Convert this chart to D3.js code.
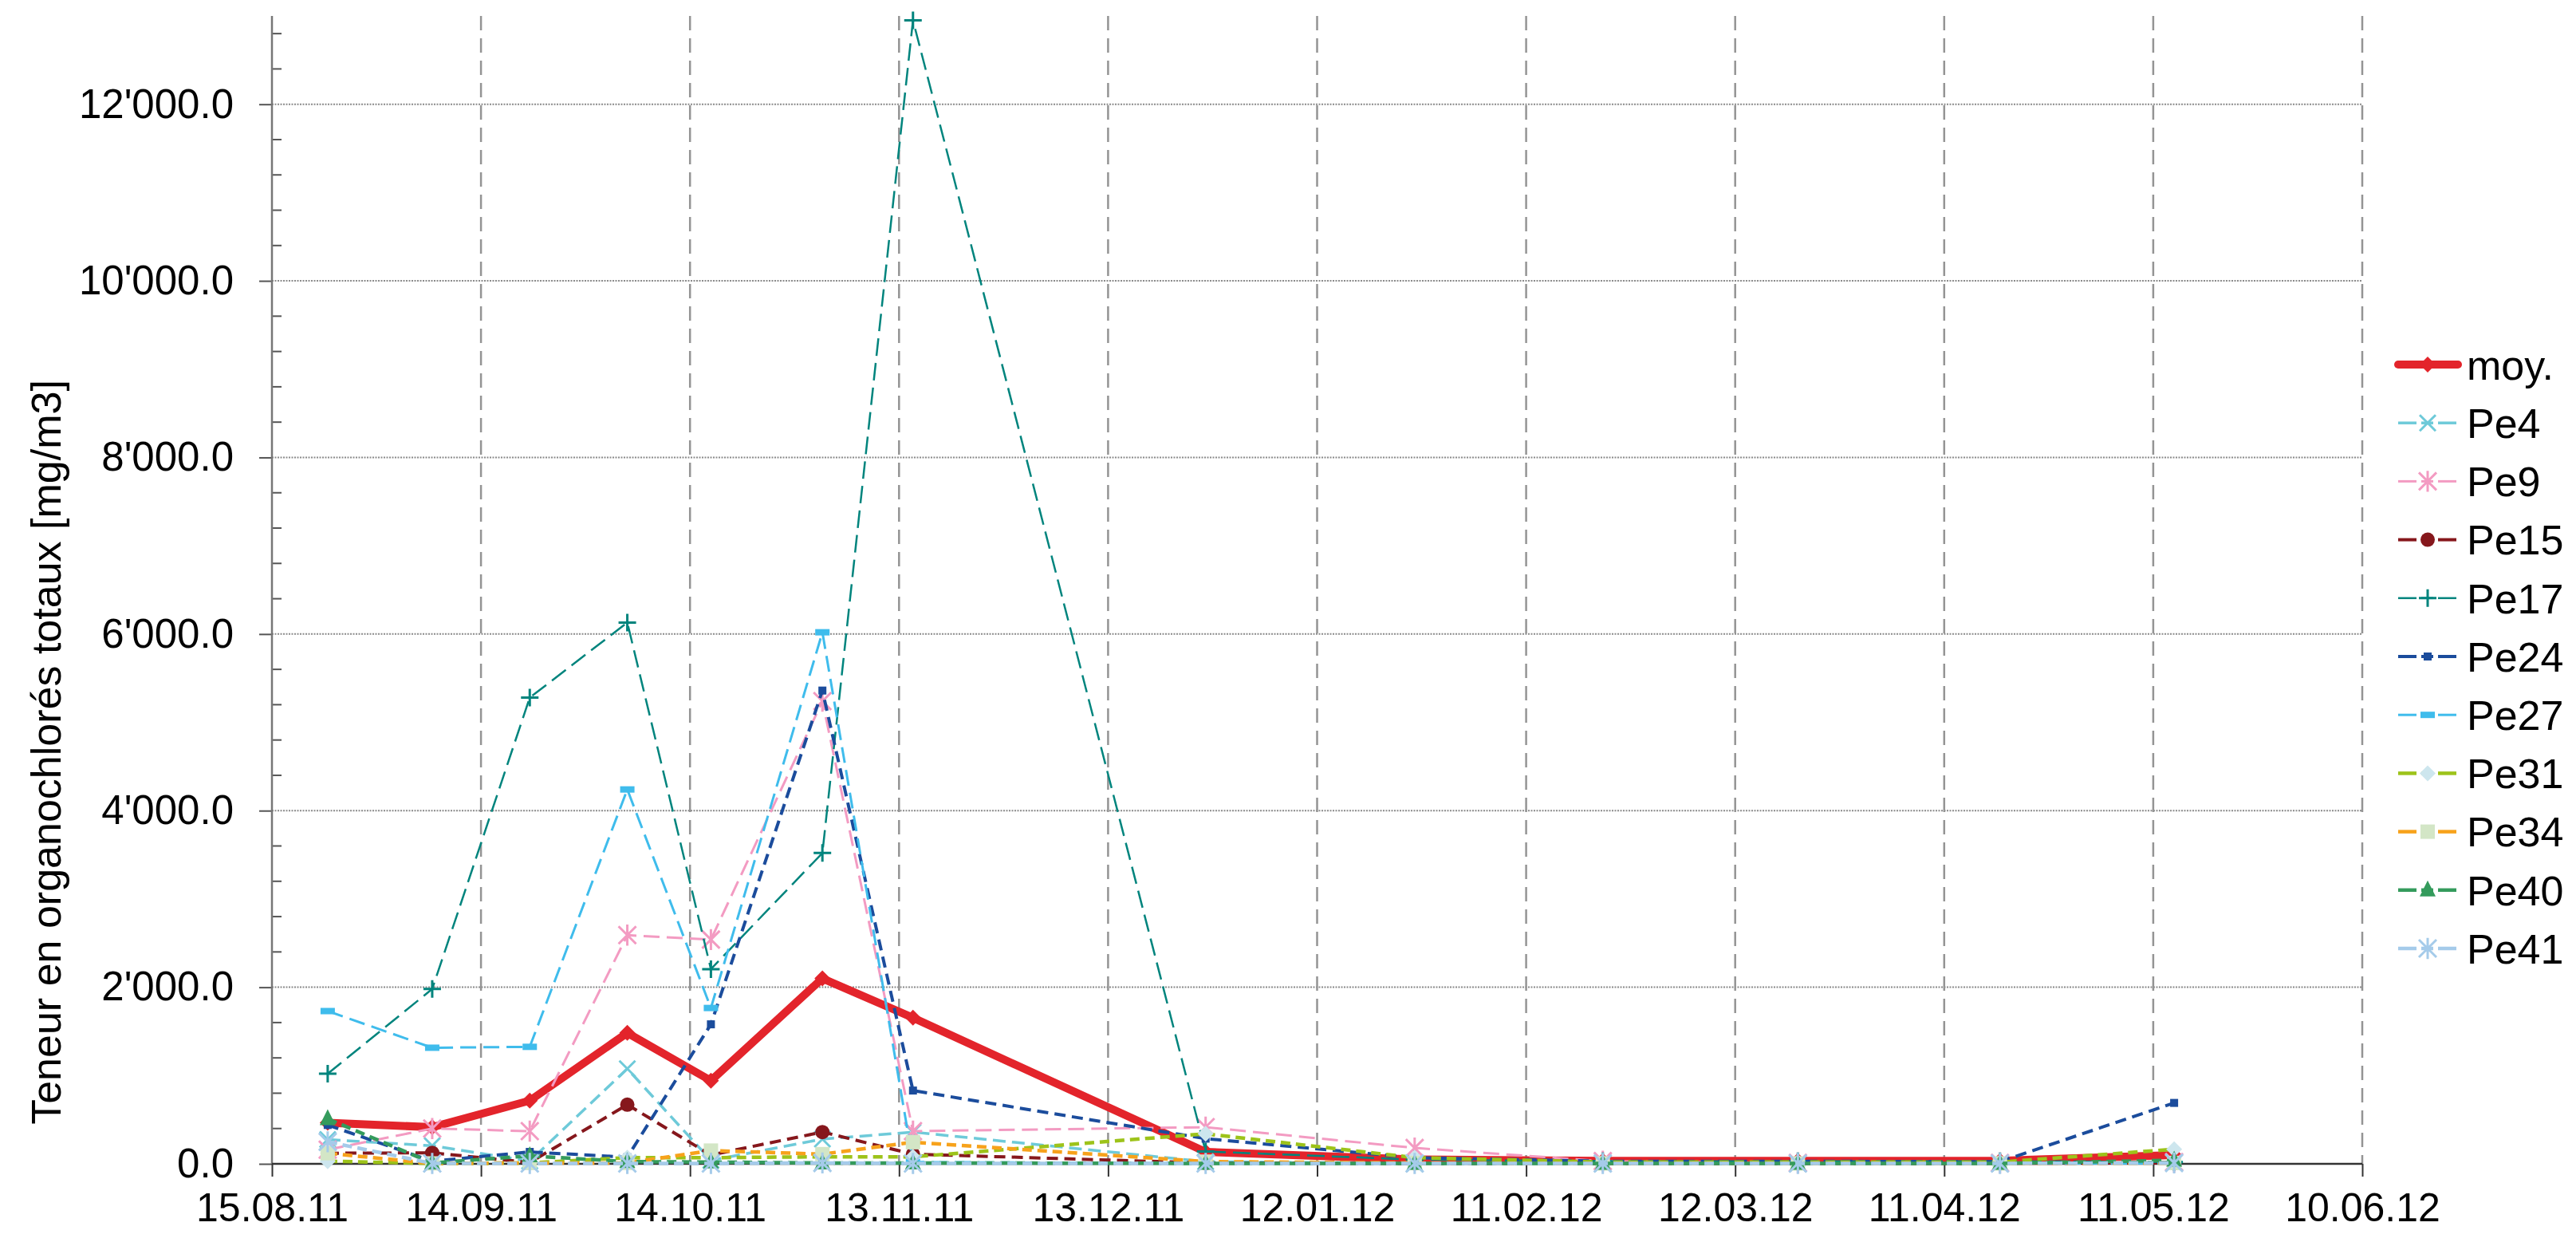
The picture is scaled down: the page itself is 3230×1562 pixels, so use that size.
<!DOCTYPE html>
<html lang="fr">
<head>
<meta charset="utf-8">
<title>Teneur en organochlorés totaux</title>
<script src="https://d3js.org/d3.v7.min.js"></script>
<style>
  body{margin:0;background:#fff;}
  svg text{font-family:"Liberation Sans", Arial, Helvetica, sans-serif;fill:#000;}
</style>
</head>
<body>
<div id="chart"></div>
<script>
// sampling dates (dd.mm.yy)
var dates = ["23.08.11","07.09.11","21.09.11","05.10.11","17.10.11","02.11.11","15.11.11",
             "27.12.11","26.01.12","22.02.12","21.03.12","19.04.12","14.05.12"]

var xTickLabels = ["15.08.11","14.09.11","14.10.11","13.11.11","13.12.11","12.01.12",
                   "11.02.12","12.03.12","11.04.12","11.05.12","10.06.12"]
var yTicks = [0, 2000, 4000, 6000, 8000, 10000, 12000]

var seriesNames = ["moy.","Pe4","Pe9","Pe15","Pe17","Pe24","Pe27","Pe31","Pe34","Pe40","Pe41"]

var moy  = [465, 415, 716, 1483, 942, 2100, 1655, 135, 50, 35, 35, 35, 100]
var pe4  = [275, 205, 30, 1077, 40, 280, 360, 25, 5, 5, 5, 5, 15]
var pe9  = [160, 400, 370, 2590, 2540, 5240, 370, 415, 180, 30, 10, 10, 20]
var pe15 = [120, 125, 15, 670, 100, 360, 110, 10, 5, 5, 5, 5, 10]
var pe17 = [1020, 1980, 5280, 6130, 2205, 3520, 12950, 140, 48, 30, 30, 30, 20]
var pe24 = [440, 30, 135, 75, 1580, 5360, 830, 285, 70, 30, 30, 25, 690]
var pe27 = [1730, 1315, 1325, 4240, 1765, 6020, 20, 5, 5, 5, 5, 5, 5]
var pe31 = [30, 5, 10, 70, 70, 80, 80, 340, 70, 20, 20, 20, 165]
var pe34 = [120, 5, 10, 10, 150, 110, 245, 25, 10, 5, 5, 5, 10]
var pe40 = [510, 10, 90, 25, 20, 10, 10, 5, 5, 5, 5, 5, 40]
var pe41 = [250, 5, 5, 5, 5, 10, 5, 5, 5, 5, 5, 5, 10]

var seriesValues = [moy, pe4, pe9, pe15, pe17, pe24, pe27, pe31, pe34, pe40, pe41]

// look of each series (line colour, dash, marker)
var styles = {
  "moy.": {color:"#e3242b", width:10, dash:null, marker:"diamond", mcolor:"#e3242b", msize:10},
  "Pe4":  {color:"#6ecad9", width:3.5, dash:"16,8", marker:"x", mcolor:"#6ecad9", msize:10},
  "Pe9":  {color:"#f39bc2", width:3, dash:"20,9", marker:"star", mcolor:"#f39bc2", msize:11},
  "Pe15": {color:"#86171c", width:4, dash:"14,8", marker:"circle", mcolor:"#86171c", msize:9},
  "Pe17": {color:"#00847d", width:2.5, dash:"22,9", marker:"plus", mcolor:"#00847d", msize:11},
  "Pe24": {color:"#1b4c9c", width:4, dash:"14,8", marker:"square", mcolor:"#1b4c9c", msize:5},
  "Pe27": {color:"#3fbcec", width:3, dash:"20,9", marker:"bar", mcolor:"#3fbcec", msize:9},
  "Pe31": {color:"#9dc31a", width:4.5, dash:"12,7", marker:"diamond", mcolor:"#cde6ee", msize:10},
  "Pe34": {color:"#f7a21b", width:4.5, dash:"12,7", marker:"square", mcolor:"#d3e6c6", msize:9},
  "Pe40": {color:"#349b5c", width:4.5, dash:"12,7", marker:"triangle", mcolor:"#349b5c", msize:10},
  "Pe41": {color:"#a5cbea", width:4.5, dash:"12,7", marker:"star", mcolor:"#a5cbea", msize:11}
}

var W = 3230, H = 1562
var parseDay = d3.utcParse("%d.%m.%y")

var svg = d3.select("#chart").append("svg")
  .attr("width", W).attr("height", H)
  .style("display","block")

var x = d3.scaleUtc()
  .domain([parseDay(xTickLabels[0]), parseDay(xTickLabels[xTickLabels.length-1])])
  .range([341, 2962])
var y = d3.scaleLinear().domain([0, 13000]).range([1459, 20])

var fmtY = function(v){ return d3.format(",.1f")(v).replace(/,/g, "'") }

// horizontal grid (dotted)
svg.append("g").selectAll("line")
  .data(yTicks.filter(function(d){ return d > 0 }))
  .enter().append("line")
  .attr("x1", 341).attr("x2", 2962)
  .attr("y1", function(d){ return y(d) }).attr("y2", function(d){ return y(d) })
  .attr("stroke", "#8a8a8a").attr("stroke-width", 2).attr("stroke-dasharray", "2,1.5")

// vertical grid (dashed)
svg.append("g").selectAll("line")
  .data(xTickLabels.slice(1))
  .enter().append("line")
  .attr("x1", function(d){ return x(parseDay(d)) }).attr("x2", function(d){ return x(parseDay(d)) })
  .attr("y1", 20).attr("y2", 1459)
  .attr("stroke", "#949494").attr("stroke-width", 2.5).attr("stroke-dasharray", "18,10")

// y axis: major ticks outside, minor ticks inside
var yAxis = d3.axisLeft(y).tickValues(yTicks).tickFormat(fmtY).tickSize(16).tickPadding(32)
var gy = svg.append("g").attr("transform", "translate(341,0)").call(yAxis)
gy.select(".domain").remove()
gy.selectAll(".tick line").attr("stroke", "#555").attr("stroke-width", 2)
gy.selectAll(".tick text").style("font-size", "51px").attr("fill", "#000")
  .attr("font-family", "Liberation Sans, Arial, sans-serif")

var minor = d3.range(400, 13000, 400).filter(function(d){ return d % 2000 !== 0 })
svg.append("g").selectAll("line").data(minor).enter().append("line")
  .attr("x1", 341).attr("x2", 353)
  .attr("y1", function(d){ return y(d) }).attr("y2", function(d){ return y(d) })
  .attr("stroke", "#555").attr("stroke-width", 2)

svg.append("line").attr("x1", 341).attr("x2", 341).attr("y1", 20).attr("y2", 1459)
  .attr("stroke", "#777").attr("stroke-width", 2.5)

// x axis
var xAxis = d3.axisBottom(x)
  .tickValues(xTickLabels.map(parseDay))
  .tickFormat(d3.utcFormat("%d.%m.%y"))
  .tickSize(16).tickPadding(20)
var gx = svg.append("g").attr("transform", "translate(0,1459)").call(xAxis)
gx.select(".domain").attr("stroke", "#333").attr("stroke-width", 2.5)
  .attr("d", "M341,0H2962")
gx.selectAll(".tick line").attr("stroke", "#333").attr("stroke-width", 2)
gx.selectAll(".tick text").style("font-size", "50px").attr("fill", "#000")
  .attr("font-family", "Liberation Sans, Arial, sans-serif")

// y title
svg.append("text")
  .attr("transform", "translate(76,943) rotate(-90)")
  .attr("text-anchor", "middle")
  .style("font-size", "52px")
  .text("Teneur en organochlorés totaux [mg/m3]")

function drawMarker(g, type, cx, cy, st){
  var s = st.msize, c = st.mcolor
  if(type == "diamond"){
    g.append("path").attr("d", "M"+cx+","+(cy-s)+"L"+(cx+s)+","+cy+"L"+cx+","+(cy+s)+"L"+(cx-s)+","+cy+"Z")
      .attr("fill", c)
  } else if(type == "x" || type == "star" || type == "plus"){
    var d = ""
    if(type != "plus") d += "M"+(cx-s)+","+(cy-s)+"L"+(cx+s)+","+(cy+s)+"M"+(cx+s)+","+(cy-s)+"L"+(cx-s)+","+(cy+s)
    if(type == "star") d += "M"+cx+","+(cy-s*1.2)+"L"+cx+","+(cy+s*1.2)
    if(type == "plus") d += "M"+(cx-s)+","+cy+"L"+(cx+s)+","+cy+"M"+cx+","+(cy-s)+"L"+cx+","+(cy+s)
    g.append("path").attr("d", d).attr("stroke", c).attr("stroke-width", 3).attr("fill", "none")
  } else if(type == "circle"){
    g.append("circle").attr("cx", cx).attr("cy", cy).attr("r", s).attr("fill", c)
  } else if(type == "square"){
    g.append("rect").attr("x", cx-s).attr("y", cy-s).attr("width", 2*s).attr("height", 2*s).attr("fill", c)
  } else if(type == "bar"){
    g.append("rect").attr("x", cx-s).attr("y", cy-4).attr("width", 2*s).attr("height", 8).attr("fill", c)
  } else if(type == "triangle"){
    g.append("path").attr("d", "M"+cx+","+(cy-s*1.2)+"L"+(cx+s)+","+(cy+s*0.8)+"L"+(cx-s)+","+(cy+s*0.8)+"Z")
      .attr("fill", c)
  }
}

var line = d3.line()
  .x(function(d,i){ return x(parseDay(dates[i])) })
  .y(function(d){ return y(d) })

seriesNames.forEach(function(name, k){
  var st = styles[name]
  var vals = seriesValues[k]
  var g = svg.append("g").attr("class", "series")
  var p = g.append("path").datum(vals).attr("d", line)
    .attr("fill", "none").attr("stroke", st.color).attr("stroke-width", st.width)
    .attr("stroke-linejoin", "round")
  if(st.dash) p.attr("stroke-dasharray", st.dash)
  vals.forEach(function(v, i){
    drawMarker(g, st.marker, x(parseDay(dates[i])), y(v), st)
  })
})

// legend
var leg = svg.append("g")
seriesNames.forEach(function(name, k){
  var st = styles[name]
  var ly = 457 + k * 73.2
  if(st.dash){
    leg.append("line").attr("x1", 3007).attr("x2", 3030).attr("y1", ly).attr("y2", ly)
      .attr("stroke", st.color).attr("stroke-width", st.width)
    leg.append("line").attr("x1", 3057).attr("x2", 3080).attr("y1", ly).attr("y2", ly)
      .attr("stroke", st.color).attr("stroke-width", st.width)
    leg.append("line").attr("x1", 3036).attr("x2", 3051).attr("y1", ly).attr("y2", ly)
      .attr("stroke", st.color).attr("stroke-width", st.width)
  } else {
    leg.append("line").attr("x1", 3007).attr("x2", 3082).attr("y1", ly).attr("y2", ly)
      .attr("stroke", st.color).attr("stroke-width", st.width).attr("stroke-linecap", "round")
  }
  drawMarker(leg, st.marker, 3044, ly, st)
  leg.append("text").attr("x", 3093).attr("y", ly).attr("dy", "0.36em")
    .style("font-size", "52px").text(name)
})
</script>
</body>
</html>
